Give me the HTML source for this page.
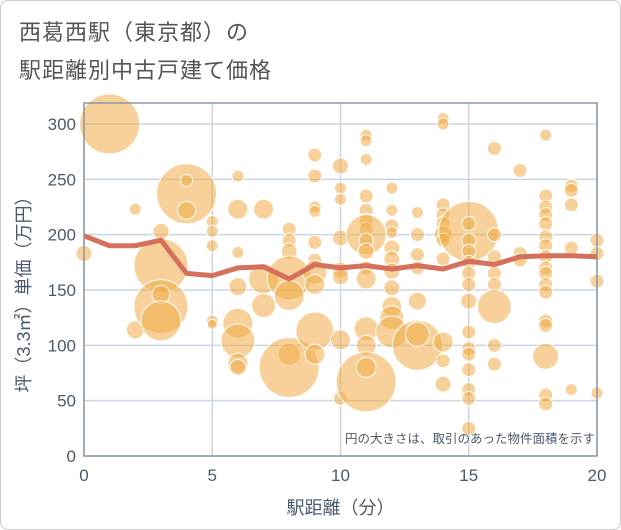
<!DOCTYPE html>
<html><head><meta charset="utf-8"><style>
body{margin:0;background:#fff;}
#wrap{position:relative;width:619px;height:528px;border:1px solid #ccc;border-radius:8px;overflow:hidden;font-family:"Liberation Sans","Noto Sans CJK JP",sans-serif;}
.title{position:absolute;left:18px;font-size:22px;color:#555;letter-spacing:1px;}
</style></head><body>
<div id="wrap">
<div class="title" style="top:14px">西葛西駅（東京都）の</div>
<div class="title" style="top:52px">駅距離別中古戸建て価格</div>
<svg id="chart" width="621" height="530" style="position:absolute;left:-1px;top:-1px"></svg>
</div>
<script>
const xTicks=[0,5,10,15,20];
const yTicks=[0,50,100,150,200,250,300];
const bubbleX=[0,1,2,2,3,3,3,3,3,4,4,4,5,5,5,5,5,6,6,6,6,6,6,6,6,7,7,7,8,8,8,8,8,8,8,9,9,9,9,9,9,9,9,9,9,10,10,10,10,10,10,10,10,11,11,11,11,11,11,11,11,11,11,11,11,11,11,11,11,12,12,12,12,12,12,12,12,12,12,12,13,13,13,13,13,13,13,14,14,14,14,14,14,14,14,14,14,14,15,15,15,15,15,15,15,15,15,15,15,15,15,15,15,16,16,16,16,16,16,16,16,17,17,17,18,18,18,18,18,18,18,18,18,18,18,18,18,18,18,18,18,19,19,19,19,19,20,20,20,20];
const bubbleY=[183,300,223,114,203,172,135,146,122,237,249,222,212,203,190,122,119,253,223,184,153,120,104,84,80,223,160,136,205,195,185,161,145,92,80,272,253,225,221,193,177,166,155,113,92,262,242,232,197,168,162,105,52,290,285,268,235,222,213,205,200,195,185,170,160,115,100,67,80,242,222,208,202,188,178,167,152,135,125,112,220,200,182,170,140,100,110,305,300,227,218,210,200,195,178,103,86,65,203,210,195,185,175,165,155,140,112,97,92,78,60,52,25,278,200,180,165,155,135,100,83,258,183,177,290,235,225,218,210,198,190,180,170,165,155,148,122,118,90,55,47,244,240,227,188,60,195,183,158,57];
const bubbleR=[8,30,6,9,8,27,27,9,20,30,6,9,6,6,6,6,5,6,10,6,9,15,17,10,8,10,15,12,7,7,8,22,15,11,30,7,7,6,6,7,7,12,10,19,10,8,6,6,8,8,8,10,7,6,6,6,7,7,7,7,20,7,8,7,10,12,10,30,10,6,6,7,6,8,8,8,8,10,12,16,6,7,7,7,9,25,12,6,6,7,7,7,9,7,7,10,7,8,30,7,7,7,7,7,7,8,7,7,7,7,7,7,7,7,7,7,7,7,17,7,7,7,7,7,6,7,7,7,7,7,7,7,7,7,7,7,7,7,13,7,7,7,7,7,7,6,7,7,7,6];
const lineX=[0,1,2,3,4,5,6,7,8,9,10,11,12,13,14,15,16,17,18,19,20];
const lineY=[199,190,190,195,165,163,170,171,160,173,170,172,169,172,169,176,173,180,181,181,180];
const svg=document.getElementById('chart');
const NS='http://www.w3.org/2000/svg';
const L=84,R=597,T=103,B=456;
const sx=v=>L+(R-L)*v/20;
const sy=v=>B-(B-124)*v/300;
function mk(t,a){const e=document.createElementNS(NS,t);for(const k in a)e.setAttribute(k,a[k]);svg.appendChild(e);return e;}
yTicks.forEach(v=>{const g=mk('line',{x1:L,x2:R,y1:sy(v),y2:sy(v),stroke:'#c9d5e2','stroke-width':1.5});


const t=mk('text',{x:L-8,y:sy(v)+6,'text-anchor':'end','font-size':17,fill:'#4a5a6a'});t.textContent=v;

});
xTicks.forEach(v=>{const g=mk('line',{x1:sx(v),x2:sx(v),y1:T,y2:B,stroke:'#c9d5e2','stroke-width':1.5});


const t=mk('text',{x:sx(v),y:B+25,'text-anchor':'middle','font-size':17,fill:'#4a5a6a'});t.textContent=v;

});
bubbleX.forEach((x,i)=>{const c=mk('circle',{cx:sx(x),cy:sy(bubbleY[i]),r:bubbleR[i],fill:'rgba(240,172,70,0.55)',stroke:'#fff','stroke-width':1});

});
const p=mk('polyline',{points:lineX.map((x,i)=>sx(x)+','+sy(lineY[i])).join(' '),fill:'none',stroke:'#d5705c','stroke-width':5,'stroke-linejoin':'round'});


const fr=mk('rect',{x:L,y:T,width:R-L,height:B-T,fill:'none',stroke:'#8a98a8','stroke-width':1.5});


const n=mk('text',{x:R-2,y:443,'text-anchor':'end','font-size':12.5,fill:'#4a5a6a'});n.textContent='円の大きさは、取引のあった物件面積を示す';


const xt=mk('text',{x:(L+R)/2,y:514,'text-anchor':'middle','font-size':18,fill:'#4a5a6a'});xt.textContent='駅距離（分）';


const yt=mk('text',{x:0,y:0,'text-anchor':'middle','font-size':18,fill:'#4a5a6a',transform:'translate(30,290) rotate(-90)'});yt.textContent='坪（3.3㎡）単価（万円）';


</script>
</body></html>
